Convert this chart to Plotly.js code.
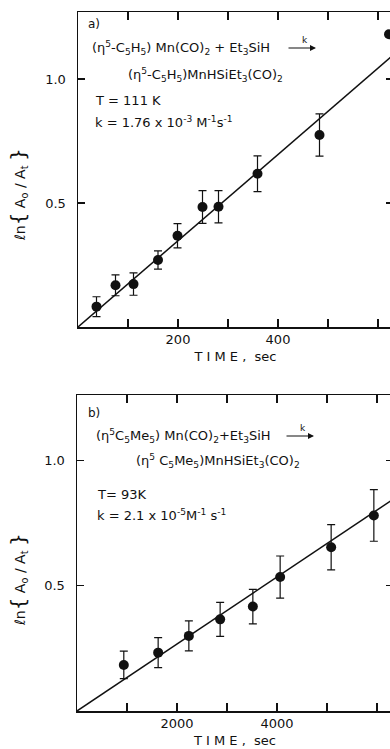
<!DOCTYPE html>
<html><head><meta charset="utf-8">
<script src="https://cdn.plot.ly/plotly-3.0.1.min.js"></script>
<style>html,body{margin:0;padding:0;overflow:hidden;background:#fff;width:390px;height:749px}#c{width:400px;height:749px}</style>
</head><body><div id="c"></div>
<script>
// Panel a: (eta5-C5H5)Mn(CO)2 + Et3SiH, T = 111 K
const timeA = [37, 75, 111, 160, 199, 249, 281, 359, 483, 622];
const lnA   = [0.082, 0.168, 0.173, 0.27, 0.368, 0.484, 0.485, 0.618, 0.774, 1.18];
const errA  = [0.04, 0.042, 0.045, 0.037, 0.049, 0.066, 0.065, 0.072, 0.085, 0];
const fitTimeA = [0, 640];
const fitLnA   = [0, 1.113];
const tickValsA = [100, 200, 300, 400, 500, 600];
const tickTextA = ["", "200", "", "400", "", ""];

// Panel b: (eta5-C5Me5)Mn(CO)2 + Et3SiH, T = 93 K
const timeB = [936, 1623, 2237, 2863, 3517, 4063, 5083, 5937];
const lnB   = [0.184, 0.233, 0.30, 0.366, 0.417, 0.535, 0.654, 0.781];
const errB  = [0.055, 0.06, 0.06, 0.068, 0.069, 0.084, 0.09, 0.103];
const fitTimeB = [0, 6400];
const fitLnB   = [0, 0.856];
const tickValsB = [1000, 2000, 3000, 4000, 5000, 6000];
const tickTextB = ["", "2000", "", "4000", "", ""];

const yTickVals = [0.5, 1.0];
const yTickText = ["0.5", "1.0"];

const F = "DejaVu Sans, Liberation Sans, sans-serif";
const black = "#111";

function pts(x, y, e, xa, ya) {
  return {x: x, y: y, xaxis: xa, yaxis: ya, type: "scatter", mode: "markers",
    marker: {color: black, size: 10},
    error_y: {type: "data", array: e, visible: true, color: black, thickness: 1.2, width: 4}};
}
function fit(x, y, xa, ya) {
  return {x: x, y: y, xaxis: xa, yaxis: ya, type: "scatter", mode: "lines",
    line: {color: black, width: 1.5}};
}
const data = [
  fit(fitTimeA, fitLnA, "x", "y"), pts(timeA, lnA, errA, "x", "y"),
  fit(fitTimeB, fitLnB, "x2", "y2"), pts(timeB, lnB, errB, "x2", "y2")
];

function xax(range, vals, text, domain, anchor) {
  return {domain: domain, range: range, anchor: anchor, tickmode: "array", tickvals: vals, ticktext: text,
    ticks: "inside", ticklen: 8, tickwidth: 1.2, tickcolor: black,
    showline: true, linecolor: black, linewidth: 1.5, mirror: "ticks",
    showgrid: false, zeroline: false,
    tickfont: {family: F, size: 13, color: black},
    title: {text: "T I M E ,  sec", font: {family: F, size: 13, color: black}, standoff: 6}};
}
function yax(range, domain, anchor) {
  return {domain: domain, range: range, anchor: anchor, tickmode: "array", tickvals: yTickVals, ticktext: yTickText,
    ticks: "inside", ticklen: 7, tickwidth: 1.2, tickcolor: black,
    showline: true, linecolor: black, linewidth: 1.5, mirror: "ticks",
    showgrid: false, zeroline: false, ticklabelstandoff: 8,
    tickfont: {family: F, size: 13, color: black}};
}

const H = 749, W = 400;
const py = p => 1 - p / H;
const px = p => p / W;

function txt(x, y, s, size) {
  return {xref: "paper", yref: "paper", x: px(x), y: py(y), text: s, showarrow: false,
    xanchor: "left", yanchor: "middle", font: {family: F, size: size || 13, color: black}};
}
function arrow(x0, x1, y) {
  return {xref: "paper", yref: "paper", x: px(x1), y: py(y), ax: x0 - x1, ay: 0, text: "",
    showarrow: true, arrowhead: 2, arrowsize: 1, arrowwidth: 1.2, arrowcolor: black};
}
const ylab = '<i>ℓ</i>n<span style="font-size:20px">{</span> A<sub>o</sub> / A<sub>t</sub> <span style="font-size:20px">}</span>';
function ytitle(y) {
  return {xref: "paper", yref: "paper", x: px(18), y: py(y), text: ylab, showarrow: false, textangle: -90,
    xanchor: "center", yanchor: "middle", font: {family: F, size: 14, color: black}};
}

const annotations = [
  txt(86, 24, "a)", 12),
  txt(90, 48, "(η<sup>5</sup>-C<sub>5</sub>H<sub>5</sub>) Mn(CO)<sub>2</sub> + Et<sub>3</sub>SiH"),
  arrow(287, 316, 48), txt(300, 40, "k", 9),
  txt(126, 75, "(η<sup>5</sup>-C<sub>5</sub>H<sub>5</sub>)MnHSiEt<sub>3</sub>(CO)<sub>2</sub>"),
  txt(93, 100, "T = 111 K"),
  txt(93, 122, "k = 1.76 x 10<sup>-3</sup> M<sup>-1</sup>s<sup>-1</sup>"),
  ytitle(195),

  txt(86, 413, "b)", 12),
  txt(94, 436, "(η<sup>5</sup>C<sub>5</sub>Me<sub>5</sub>) Mn(CO)<sub>2</sub>+Et<sub>3</sub>SiH"),
  arrow(285, 314, 436), txt(298, 428, "k", 9),
  txt(134, 461, "(η<sup>5</sup> C<sub>5</sub>Me<sub>5</sub>)MnHSiEt<sub>3</sub>(CO)<sub>2</sub>"),
  txt(95, 494, "T= 93K"),
  txt(95, 515, "k = 2.1 x 10<sup>-5</sup>M<sup>-1</sup> s<sup>-1</sup>"),
  ytitle(580)
];

const layout = {
  width: W, height: H, margin: {l: 0, r: 0, t: 0, b: 0},
  paper_bgcolor: "#fff", plot_bgcolor: "#fff", showlegend: false,
  xaxis: xax([0, 630], tickValsA, tickTextA, [px(78), px(393)], "y"),
  yaxis: yax([0, 1.27], [py(327), py(12)], "x"),
  xaxis2: xax([0, 6320], tickValsB, tickTextB, [px(77), px(393)], "y2"),
  yaxis2: yax([0, 1.262], [py(711), py(395)], "x2"),
  annotations: annotations
};
Plotly.newPlot("c", data, layout, {staticPlot: true, displayModeBar: false});
</script></body></html>
